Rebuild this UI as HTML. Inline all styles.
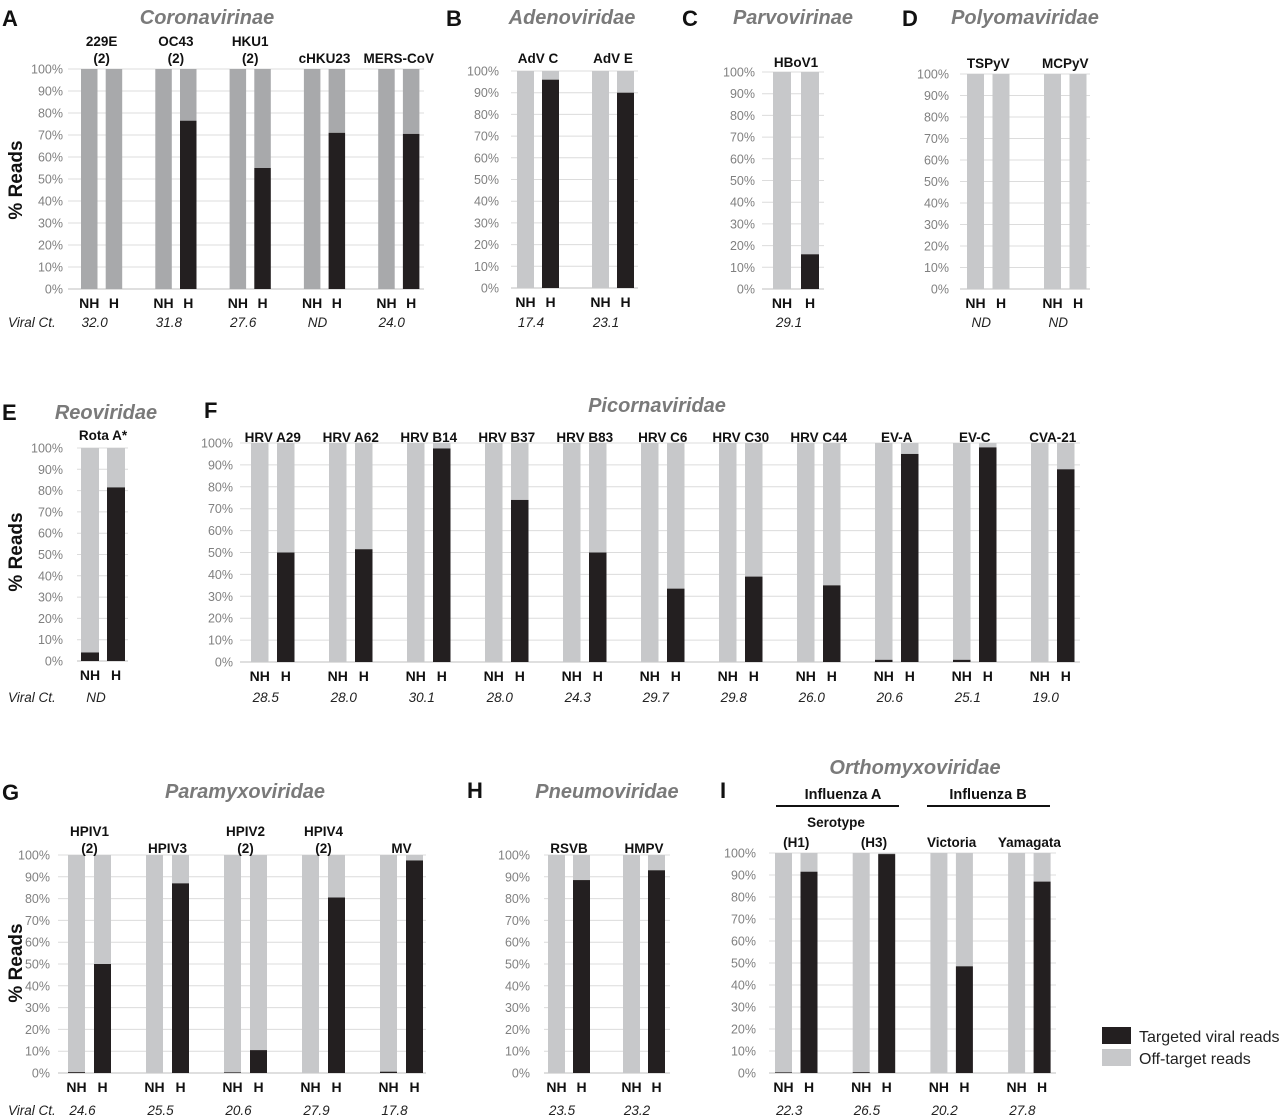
<!DOCTYPE html>
<html><head><meta charset="utf-8">
<style>
body{margin:0;background:#fff;}
svg{display:block;font-family:"Liberation Sans",Arial,sans-serif;}
.tick{font-size:12.5px;fill:#808080;text-anchor:end;}
.cat{font-size:13.5px;font-weight:bold;fill:#111;text-anchor:middle;}
.nh{font-size:14px;font-weight:bold;fill:#111;text-anchor:middle;}
.ct{font-size:13.5px;font-style:italic;fill:#222;text-anchor:middle;}
.title{font-size:20px;font-weight:bold;font-style:italic;fill:#7a7a7a;text-anchor:middle;}
.letter{font-size:22px;font-weight:bold;fill:#111;}
.ylab{font-size:19px;font-weight:bold;fill:#111;text-anchor:middle;}
</style></head><body>
<svg id="fig" width="1280" height="1116" viewBox="0 0 1280 1116">
<text class="letter" x="2" y="26">A</text>
<text class="title" x="207" y="24">Coronavirinae</text>
<text class="letter" x="446" y="26">B</text>
<text class="title" x="572" y="24">Adenoviridae</text>
<text class="letter" x="682" y="26">C</text>
<text class="title" x="793" y="24">Parvovirinae</text>
<text class="letter" x="902" y="26">D</text>
<text class="title" x="1025" y="24">Polyomaviridae</text>
<text class="letter" x="2" y="420">E</text>
<text class="title" x="106" y="419">Reoviridae</text>
<text class="letter" x="204" y="418">F</text>
<text class="title" x="657" y="412">Picornaviridae</text>
<text class="letter" x="2" y="800">G</text>
<text class="title" x="245" y="798">Paramyxoviridae</text>
<text class="letter" x="467" y="798">H</text>
<text class="title" x="607" y="798">Pneumoviridae</text>
<text class="letter" x="720" y="798">I</text>
<text class="title" x="915" y="774">Orthomyxoviridae</text>
<text class="cat" x="843" y="799" style="font-size:14.5px">Influenza A</text>
<line x1="776" y1="806" x2="899" y2="806" stroke="#111" stroke-width="2"/>
<text class="cat" x="988" y="799" style="font-size:14.5px">Influenza B</text>
<line x1="927" y1="806" x2="1050" y2="806" stroke="#111" stroke-width="2"/>
<text class="cat" x="836" y="827">Serotype</text>
<text class="ylab" transform="translate(22,180) rotate(-90)">% Reads</text>
<text class="ylab" transform="translate(22,552) rotate(-90)">% Reads</text>
<text class="ylab" transform="translate(22,963) rotate(-90)">% Reads</text>
<text class="ct" x="8" y="327" style="text-anchor:start">Viral Ct.</text>
<text class="ct" x="8" y="702" style="text-anchor:start">Viral Ct.</text>
<text class="ct" x="8" y="1115" style="text-anchor:start">Viral Ct.</text>
<rect x="1102" y="1027" width="29" height="17" fill="#231f20"/>
<text x="1139" y="1042" style="font-size:16px;fill:#222">Targeted viral reads</text>
<rect x="1102" y="1049" width="29" height="17" fill="#c7c8ca"/>
<text x="1139" y="1064" style="font-size:16px;fill:#222">Off-target reads</text>
</svg>
<script>
// Panel data (percent targeted reads)
const catsA=[["229E","(2)"],["OC43","(2)"],["HKU1","(2)"],["cHKU23"],["MERS-CoV"]];
const nhA=[0,0,0,0,0];
const hA=[0,76.5,55,71,70.5];
const ctA=["32.0","31.8","27.6","ND","24.0"];
const catsB=[["AdV C"],["AdV E"]];
const nhB=[0,0];
const hB=[96,90];
const ctB=["17.4","23.1"];
const catsC=[["HBoV1"]];
const nhC=[0];
const hC=[16];
const ctC=["29.1"];
const catsD=[["TSPyV"],["MCPyV"]];
const nhD=[0,0];
const hD=[0,0];
const ctD=["ND","ND"];
const catsE=[["Rota A*"]];
const nhE=[4];
const hE=[81.5];
const ctE=["ND"];
const catsF=[["HRV A29"],["HRV A62"],["HRV B14"],["HRV B37"],["HRV B83"],["HRV C6"],["HRV C30"],["HRV C44"],["EV-A"],["EV-C"],["CVA-21"]];
const nhF=[0,0,0,0,0,0,0,0,1,1,0];
const hF=[50,51.5,97.5,74,50,33.5,39,35,95,98,88];
const ctF=["28.5","28.0","30.1","28.0","24.3","29.7","29.8","26.0","20.6","25.1","19.0"];
const catsG=[["HPIV1","(2)"],["HPIV3"],["HPIV2","(2)"],["HPIV4","(2)"],["MV"]];
const nhG=[0.4,0,0.3,0,0.6];
const hG=[50,87,10.5,80.5,97.5];
const ctG=["24.6","25.5","20.6","27.9","17.8"];
const catsH=[["RSVB"],["HMPV"]];
const nhH=[0,0];
const hH=[88.5,93];
const ctH=["23.5","23.2"];
const catsI=[["(H1)"],["(H3)"],["Victoria"],["Yamagata"]];
const nhI=[0.3,0.4,0,0];
const hI=[91.5,99.5,48.5,87];
const ctI=["22.3","26.5","20.2","27.8"];
const ticks=["0%","10%","20%","30%","40%","50%","60%","70%","80%","90%","100%"];

const NS="http://www.w3.org/2000/svg";
const svg=document.getElementById('fig');
function mk(tag,attrs,txt){const e=document.createElementNS(NS,tag);for(const k in attrs)e.setAttribute(k,attrs[k]);if(txt!==undefined)e.textContent=txt;svg.appendChild(e);return e;}

function panel(id,cfg,cats,nh,h,ct){
  const y=v=>cfg.bottom-(cfg.bottom-cfg.top)*v/100;
  ticks.forEach((t,i)=>{
    const v=i*10;
    const g=mk('line',{x1:cfg.gl,x2:cfg.gr,y1:y(v),y2:y(v),stroke:i===0?'#bfbfbf':'#dcdcdc','stroke-width':1});
    
    
    const tl=mk('text',{class:'tick',x:cfg.lr,y:y(v)+4.5},t);
    
    
  });
  cats.forEach((c,i)=>{
    const xn=cfg.x0+i*cfg.sp, xh=xn+cfg.ho, w=cfg.bw;
    [[xn,nh[i],'nh'],[xh,h[i],'h']].forEach(([x,v,k])=>{
      const off=mk('rect',{x:x,y:y(100),width:w,height:y(v)-y(100),fill:cfg.col});
      
      
      if(v>0){
        const on=mk('rect',{x:x,y:y(v),width:w,height:y(0)-y(v),fill:'#231f20'});
        
        
      }
    });
    const cx=(xn+xh+w)/2;
    c.forEach((s,j)=>{
      const ty=cfg.catY-(c.length-1-j)*17;
      const lt=mk('text',{class:'cat',x:cx,y:ty},s);
      
      
    });
    const a=mk('text',{class:'nh',x:xn+w/2,y:cfg.bottom+19},'NH');
    
    
    const b=mk('text',{class:'nh',x:xh+w/2,y:cfg.bottom+19},'H');
    
    
    const cv=mk('text',{class:'ct',x:cx-7,y:cfg.ctY},ct[i]);
    
    
  });
}
const GA='#a8a9ab', GL='#c7c8ca';
panel('a',{top:69,bottom:289,lr:63,gl:68,gr:424,x0:81,sp:74.3,ho:24.7,bw:16.5,col:GA,catY:63,ctY:327},catsA,nhA,hA,ctA);
panel('b',{top:71,bottom:288,lr:499,gl:511,gr:638,x0:517,sp:75,ho:25,bw:17,col:GL,catY:63,ctY:327},catsB,nhB,hB,ctB);
panel('c',{top:72,bottom:289,lr:755,gl:762,gr:824,x0:773,sp:78,ho:28,bw:18,col:GL,catY:67,ctY:327},catsC,nhC,hC,ctC);
panel('d',{top:74,bottom:289,lr:949,gl:960,gr:1090,x0:967,sp:77,ho:25.5,bw:17,col:GL,catY:68,ctY:327},catsD,nhD,hD,ctD);
panel('e',{top:448,bottom:661,lr:63,gl:77,gr:128,x0:81,sp:78,ho:26,bw:18,col:GL,catY:440,ctY:702},catsE,nhE,hE,ctE);
panel('f',{top:443,bottom:662,lr:233,gl:240,gr:1080,x0:251,sp:78,ho:26,bw:17.5,col:GL,catY:442,ctY:702},catsF,nhF,hF,ctF);
panel('g',{top:855,bottom:1073,lr:50,gl:58,gr:426,x0:68,sp:78,ho:26,bw:17,col:GL,catY:853,ctY:1115},catsG,nhG,hG,ctG);
panel('h',{top:855,bottom:1073,lr:530,gl:544,gr:670,x0:548,sp:75,ho:25,bw:17,col:GL,catY:853,ctY:1115},catsH,nhH,hH,ctH);
panel('i',{top:853,bottom:1073,lr:756,gl:769,gr:1056,x0:775,sp:77.7,ho:25.5,bw:17,col:GL,catY:847,ctY:1115},catsI,nhI,hI,ctI);
</script>
</body></html>
